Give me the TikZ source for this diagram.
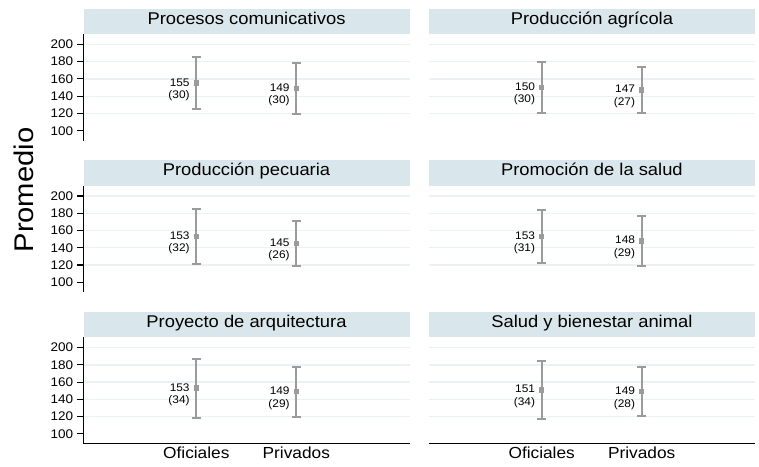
\documentclass[tikz,border=0pt]{standalone}
\usepackage{fontspec}
\setmainfont{Liberation Sans}
\definecolor{titlebg}{HTML}{D9E6EB}
\definecolor{gridc}{HTML}{EAF2F4}
\definecolor{barc}{HTML}{9B9B9B}
\newcommand\sx[1]{\scalebox{1.08}[1]{#1}}
\tikzset{
 titlebar/.style={fill=titlebg, draw=none, minimum height=25.7pt, minimum width=326.3pt, inner sep=0pt, anchor=north west, rectangle},
 titletext/.style={font=\fontsize{17}{20}\selectfont, anchor=base, inner sep=0pt},
 gridline/.style={draw=gridc, line width=1.3pt},
 ebar/.style={draw=barc, line width=2pt},
 emark/.style={fill=barc, draw=none, minimum size=5.5pt, inner sep=0pt, rectangle},
 dlabel/.style={font=\fontsize{11}{12.5}\selectfont, align=right, anchor=north east, inner sep=0pt},
 ticklab/.style={font=\fontsize{12.5}{14}\selectfont, anchor=east, inner sep=0pt},
 axisline/.style={draw=black, line width=1.1pt},
 xlab/.style={font=\fontsize{16}{18}\selectfont, anchor=base, inner sep=0pt},
 ylab/.style={font=\fontsize{27}{30}\selectfont, anchor=base, inner sep=0pt, rotate=90},
}
% #1 row, #2 col, #3 id, #4 title, #5 m1, #6 s1, #7 m2, #8 s2
\newcommand\plotpanel[8]{%
 \pgfmathsetmacro\by{151.6*#1}%
 \pgfmathsetmacro\bx{#2==0 ? 83.3 : 428.7}%
 \pgfmathsetmacro\ty{\by+8.3}%
 \pgfmathsetmacro\tby{\by+24.3}%
 \pgfmathsetmacro\tcx{\bx+163.2}%
 \node[titlebar] (tb#3) at (\bx,\ty) {};
 \node[titletext] (tt#3) at (\tcx,\tby) {\sx{#4}};
 \foreach \v in {120,140,160,180,200}{%
   \pgfmathsetmacro\gy{\by+44.4+(200-\v)*0.863}%
   \draw[gridline] (\bx,\gy) -- ++(326.3,0);
 }
 \ifnum#2=0
   \pgfmathsetmacro\ayt{\by+34}%
   \pgfmathsetmacro\ayb{\by+140.5}%
   \draw[axisline] (\bx,\ayt) -- (\bx,\ayb);
   \foreach \v in {100,120,140,160,180,200}{%
     \pgfmathsetmacro\gy{\by+44.4+(200-\v)*0.863}%
     \draw[axisline] (\bx-6,\gy) -- (\bx,\gy);
     \node[ticklab] at (\bx-10,\gy) {\sx{\v}};
   }
 \fi
 \ifnum#1=2
   \pgfmathsetmacro\ayb{\by+140.5}%
   \draw[axisline] (\bx,\ayb) -- ++(326.3,0);
   \pgfmathsetmacro\xa{\bx+113}%
   \pgfmathsetmacro\xb{\bx+213}%
   \node[xlab] (xo#3) at (\xa,458.3) {\sx{Oficiales}};
   \node[xlab] (xp#3) at (\xb,458.3) {\sx{Privados}};
 \fi
 \errbar{#3a}{\bx+113}{#5}{#6}
 \errbar{#3b}{\bx+213}{#7}{#8}
}
% #1 id, #2 x, #3 mean, #4 sd ; uses \by
\newcommand\errbar[4]{%
 \pgfmathsetmacro\ex{#2}%
 \pgfmathsetmacro\eyt{\by+44.4+(200-(#3+#4))*0.863}%
 \pgfmathsetmacro\eyb{\by+44.4+(200-(#3-#4))*0.863}%
 \pgfmathsetmacro\eym{\by+44.4+(200-#3)*0.863}%
 \draw[ebar] (\ex,\eyt) -- (\ex,\eyb);
 \draw[ebar] (\ex-4.5,\eyt) -- (\ex+4.5,\eyt);
 \draw[ebar] (\ex-4.5,\eyb) -- (\ex+4.5,\eyb);
 \node[emark] (m#1) at (\ex,\eym) {};
 \node[dlabel] (l#1) at (\ex-6.5,\eym-5) {\sx{#3}\\\sx{(#4)}};
}
\begin{document}
\begin{tikzpicture}[x=1pt,y=-1pt]
\useasboundingbox (0,0) rectangle (759,466);
\plotpanel{0}{0}{a}{Procesos comunicativos}{155}{30}{149}{30}
\plotpanel{0}{1}{b}{Producción agrícola}{150}{30}{147}{27}
\plotpanel{1}{0}{c}{Producción pecuaria}{153}{32}{145}{26}
\plotpanel{1}{1}{d}{Promoción de la salud}{153}{31}{148}{29}
\plotpanel{2}{0}{e}{Proyecto de arquitectura}{153}{34}{149}{29}
\plotpanel{2}{1}{f}{Salud y bienestar animal}{151}{34}{149}{28}
\node[ylab] (yl) at (33,190) {\sx{Promedio}};
\end{tikzpicture}
\end{document}
